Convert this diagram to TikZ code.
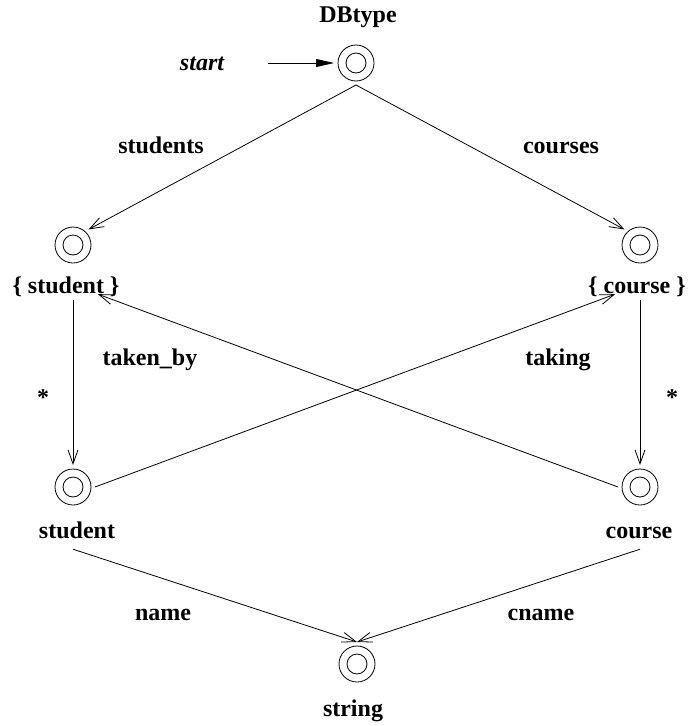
\documentclass[tikz,border=0pt]{standalone}
\usepackage{fontspec}
\setmainfont{Liberation Serif}
\usetikzlibrary{arrows.meta}
\begin{document}
\begin{tikzpicture}[x=1pt,y=-1pt,
  state/.style={circle,draw,line width=0.8pt,minimum size=36pt,inner sep=0pt,outer sep=4pt,
    path picture={\draw[line width=0.8pt] (path picture bounding box.center) circle (10pt);}},
  lbl/.style={font=\fontsize{24}{28}\selectfont\bfseries,inner sep=0pt,text height=17pt,text depth=5pt},
  edge/.style={line width=0.8pt,-{Straight Barb[length=14pt,width=10pt,line width=0.8pt]}},
  startedge/.style={line width=0.8pt,-{Triangle[length=18pt,width=8pt]}},
]
\useasboundingbox (0,0) rectangle (688,726);
% states
\node[state] (db)  at (356,63)  {};
\node[state] (ss)  at (73,245)  {};
\node[state] (sc)  at (640,245) {};
\node[state] (s)   at (73,487)  {};
\node[state] (c)   at (640,487) {};
\node[state] (str) at (357,664) {};
% state labels
\node[lbl] (dbl)  at (358,16)  {DBtype};
\node[lbl] (ssl)  at (66,287)  {\{ student \}};
\node[lbl] (scl)  at (637,287) {\{ course \}};
\node[lbl] (sl)   at (77,532)  {student};
\node[lbl] (cl)   at (639,532) {course};
\node[lbl] (strl) at (353,710) {string};
% start
\node[lbl,font=\fontsize{24}{28}\selectfont\bfseries\itshape] (startl) at (202,64) {start};
\coordinate (startpt) at (268,63);
\draw[startedge] (startpt) -- (db.west);
% edges
\draw[edge] (db.south) -- (ss.north east);
\draw[edge] (db.south) -- (sc.north west);
\draw[edge] (ss |- ssl.south) ++(0,2) -- (s.north);
\draw[edge] (sc |- scl.south) ++(0,2) -- (c.north);
\draw[edge] (s.east) -- ([xshift=-22pt,yshift=4pt]scl.south);
\draw[edge] (c.west) -- ([xshift=32pt,yshift=4pt]ssl.south);
\path (s |- sl.south) ++(0,6) coordinate (sn);
\draw[edge] (sn) -- (str.north);
\path (c |- cl.south) ++(0,6) coordinate (cn);
\draw[edge] (cn) -- (str.north);
% edge labels
\node[lbl] (students) at (161,147) {students};
\node[lbl] (courses)  at (561,147) {courses};
\node[lbl] (takenby)  at (150,359) {taken\_by};
\node[lbl] (taking)   at (558,359) {taking};
\node[lbl] (star1)    at (43,399)  {*};
\node[lbl] (star2)    at (672,399) {*};
\node[lbl] (name)     at (163,614) {name};
\node[lbl] (cname)    at (541,614) {cname};
\end{tikzpicture}
\end{document}
